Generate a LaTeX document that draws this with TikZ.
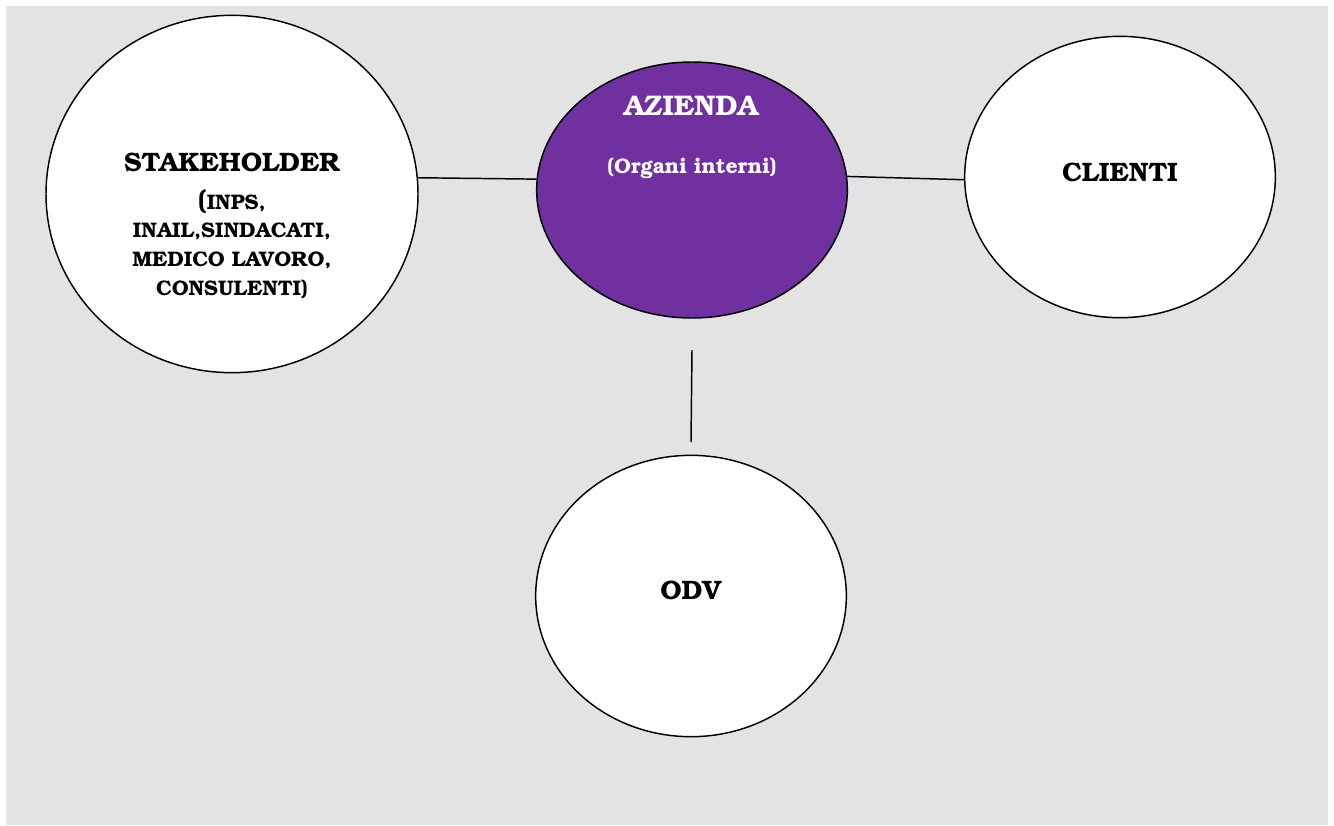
\documentclass[tikz,border=0pt]{standalone}
\usepackage[T1]{fontenc}
\usepackage{bookman}
\usetikzlibrary{shapes.geometric}

\definecolor{sfondo}{HTML}{E3E3E3}
\definecolor{viola}{HTML}{7030A0}

\tikzset{
  bolla/.style={ellipse, draw=black, line width=1.1pt, fill=white, inner sep=0pt},
  titolo/.style={font=\fontsize{20}{24}\selectfont\bfseries, inner sep=0pt},
  elenco/.style={font=\fontsize{15.8}{21.5}\selectfont\bfseries, inner sep=0pt, align=center},
  legame/.style={line width=1.1pt}
}

\begin{document}
\begin{tikzpicture}[x=0.75pt,y=-0.75pt]
  \useasboundingbox (0,0) rectangle (1334,825);
  \fill [sfondo] (6,6) rectangle (1328,825);

  \node [bolla, minimum width=279pt, minimum height=268pt] (stakeholder) at (232,194) {};
  \node [bolla, fill=viola, minimum width=233pt, minimum height=192pt] (azienda) at (692,190) {};
  \node [bolla, minimum width=233pt, minimum height=211pt] (clienti) at (1120,177) {};
  \node [bolla, minimum width=233pt, minimum height=211pt] (odv) at (691,596) {};

  \node [titolo] (stktitolo) at (232,162) {STAKEHOLDER};
  \node [elenco] (stkelenco) at (232,244) {{\fontsize{20}{24}\selectfont(}INPS,\\
    INAIL,SINDACATI,\\ MEDICO LAVORO,\\ CONSULENTI)};
  \node [titolo, font=\fontsize{21.3}{25}\selectfont\bfseries, text=white] (aztitolo) at (691,106) {AZIENDA};
  \node [elenco, text=white] (azsotto) at (692,168) {(Organi interni)};
  \node [titolo] (cltitolo) at (1120,172) {CLIENTI};
  \node [titolo] (odvtitolo) at (691,590) {ODV};

  \coordinate (alto) at (692,350);
  \coordinate (basso) at (691,442);

  \draw [legame] (stakeholder.5) -- (azienda.176);
  \draw [legame] (azienda.5) -- (clienti.181);
  \draw [legame] (alto) -- (basso);
\end{tikzpicture}
\end{document}
